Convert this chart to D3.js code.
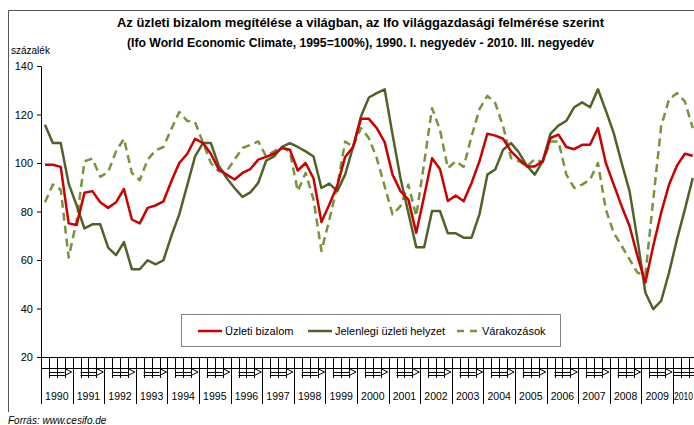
<!DOCTYPE html>
<html>
<head>
<meta charset="utf-8">
<script src="https://cdn.jsdelivr.net/npm/d3@7"></script>
<style>
  html, body { margin: 0; padding: 0; background: #fff; }
  svg { display: block; }
  text { font-family: "Liberation Sans", Arial, sans-serif; }
</style>
</head>
<body>
<svg id="chart" width="694" height="425"></svg>
<script>
// ---------- data ----------
const titleLines = [
  "Az üzleti bizalom megítélése a világban, az Ifo világgazdasági felmérése szerint",
  "(Ifo World Economic Climate, 1995=100%), 1990. I. negyedév - 2010. III. negyedév"
];
const yUnit = "százalék";
const source = "Forrás: www.cesifo.de";
const years = ["1990","1991","1992","1993","1994","1995","1996","1997","1998","1999",
  "2000","2001","2002","2003","2004","2005","2006","2007","2008","2009","2010"];
const yTicks = [20, 40, 60, 80, 100, 120, 140];
const seriesNames = ["Üzleti bizalom", "Jelenlegi üzleti helyzet", "Várakozások"];

const uzletiBizalom = [
  99.3, 99.3, 98.4, 75.1, 74.4, 87.7, 88.4, 83.8, 81.5, 83.8, 89.3, 76.7, 75.1, 81.5,
  82.5, 84.2, 92.5, 100, 103.7, 110, 108.2, 103.8, 97.3, 95.2, 93.2, 95.9, 97.5, 101.4,
  102.5, 103.8, 106.2, 105.5, 96.9, 100, 93.6, 75.7, 82.9, 90.7, 102.5, 106.6, 118.2,
  118.2, 114.4, 108.6, 95.2, 88.4, 84.9, 71.2, 86.3, 102, 97.5, 84.3, 86.6, 84.2,
  91.8, 100.7, 112.1, 111.3, 110, 104.8, 101.6, 98.6, 98.6, 100.7, 110.3, 111.7, 106.6,
  105.7, 107.5, 107.5, 114.4, 100, 91.1, 82.2, 74, 61.6, 50.7, 65.8, 79.5, 91.1, 98.9,
  103.8, 103
];
const jelenlegiHelyzet = [
  115.8, 108.2, 108.2, 91.5, 82.6, 73, 74.7, 74.7, 65.1, 62, 67.4, 56.2, 56.2, 59.9,
  58.2, 59.9, 69.9, 78.8, 90.7, 102.7, 108.2, 108.2, 98.9, 93.8, 89.7, 86, 87.9, 91.8,
  101, 102.7, 106.6, 108.2, 106.6, 104.8, 102.7, 89.7, 91.5, 88.4, 95.2, 106.6, 119.2,
  127, 128.8, 130.4, 111.7, 93.8, 79.5, 65.3, 65.3, 80.2, 80.2, 71, 71, 69.2,
  69.2, 78.8, 95.2, 97.3, 105.5, 108.2, 104.3, 98.9, 95.2, 100.7, 112.1, 115.4, 117.4,
  123, 125, 123, 130.4, 121.6, 112.3, 100, 88.4, 68.5, 46.6, 39.7, 43.1, 54.8, 68.5,
  80.8, 93.8
];
const varakozasok = [
  83.8, 91.1, 89, 61, 76, 100.7, 101.8, 94.3, 96.3, 104.8, 110, 95.9, 92.9, 101.4,
  105.2, 106.6, 114, 121, 117.4, 116.8, 108.5, 100, 96.6, 96.6, 101.4, 106.2, 107.5, 108.9,
  102.7, 104.8, 106.6, 104.8, 88.4, 95.9, 84.9, 63.7, 76.6, 90.4, 108.9, 106.6, 114.4,
  110.3, 102, 90.4, 78.8, 82.2, 91.1, 78.1, 100, 122.6, 113.7, 97.9, 100.7, 98.4,
  111, 122.2, 127.7, 124.7, 115.1, 102, 100.7, 98.6, 101.6, 100.3, 108.9, 108.9, 95.2,
  89.7, 91.1, 93.2, 100, 80.8, 71.2, 65.8, 60.3, 54.8, 53.7, 84.9, 115.1, 126.3, 128.8,
  125.4, 114.4
];

// ---------- layout ----------
const svg = d3.select("#chart");
const W = 694, H = 425;
const left = 41, qW = 7.9;
const nQ = uzletiBizalom.length;
const x = d3.scaleLinear().domain([0, nQ]).range([left, left + nQ * qW]);
const y = d3.scaleLinear().domain([20, 140]).range([357, 66]);
const axisY = y(20);

const colors = ["#cc0000", "#4f6228", "#77933c"];
const dashes = [null, null, "8,5"];

// outer frame (partly cropped in original)
svg.append("path")
  .attr("d", `M8.5,412 L8.5,10.5 L${W},10.5`)
  .attr("fill", "none").attr("stroke", "#555").attr("stroke-width", 1);

// title
svg.selectAll("text.title").data(titleLines).enter().append("text")
  .attr("class", "title")
  .attr("x", (d, i) => i === 0 ? 117 : 127)
  .attr("y", (d, i) => 27 + i * 20)
  .attr("textLength", (d, i) => i === 0 ? 487 : 467)
  .attr("lengthAdjust", "spacingAndGlyphs")
  .attr("font-size", 13.5).attr("font-weight", "bold").attr("fill", "#000")
  .text(d => d);

svg.append("text").attr("x", 11).attr("y", 54).attr("font-size", 10).text(yUnit);

// y axis
const yAxis = d3.axisLeft(y).tickValues(yTicks).tickSize(4).tickSizeOuter(0).tickPadding(4);
const gy = svg.append("g").attr("transform", `translate(${left},0)`).call(yAxis);
gy.select(".domain").attr("stroke", "#000");
gy.selectAll(".tick line").attr("stroke", "#000");
gy.selectAll(".tick text").attr("font-size", 11).attr("fill", "#000")
  .attr("font-family", "Liberation Sans, Arial, sans-serif");

// x axis (multi-level category axis look)
const gx = svg.append("g").attr("stroke", "#000").attr("stroke-width", 1);
gx.append("line").attr("x1", left).attr("x2", W).attr("y1", axisY + 0.5).attr("y2", axisY + 0.5);
gx.append("line").attr("x1", left).attr("x2", W).attr("y1", 368.5).attr("y2", 368.5);
d3.range(0, nQ + 1).forEach(q => {
  const xx = Math.round(x(q)) + 0.5;
  const isYear = q % 4 === 0;
  gx.append("line").attr("x1", xx).attr("x2", xx)
    .attr("y1", axisY).attr("y2", isYear ? 404 : 378);
});
years.forEach((yr, k) => {
  const q0 = k * 4;
  const nQy = Math.min(4, nQ - q0);
  if (nQy === 4) {
    const xs = x(q0 + 1), xe = x(q0 + 3);
    gx.append("line").attr("x1", xs).attr("x2", xe).attr("y1", 372.5).attr("y2", 372.5);
    gx.append("line").attr("x1", xs).attr("x2", xe).attr("y1", 375.5).attr("y2", 375.5);
    gx.append("path").attr("fill", "none")
      .attr("d", `M${xe},368.5 L${xe + 7},372 L${xe},375.5`);
  } else {
    gx.append("line").attr("x1", x(q0)).attr("x2", W).attr("y1", 372.5).attr("y2", 372.5);
    gx.append("line").attr("x1", x(q0)).attr("x2", W).attr("y1", 375.5).attr("y2", 375.5);
  }
  const t = svg.append("text")
    .attr("y", 400)
    .attr("font-size", 10.5).attr("fill", "#000")
    .text(yr);
  if (nQy === 4) {
    t.attr("x", (x(q0) + x(q0 + nQy)) / 2).attr("text-anchor", "middle");
  } else {
    t.attr("x", x(q0) + 1).attr("text-anchor", "start").attr("font-size", 10)
      .attr("textLength", 19).attr("lengthAdjust", "spacingAndGlyphs");
  }
});

// lines
const line = d3.line().x((d, i) => x(i + 0.5)).y(d => y(d));
const allSeries = [uzletiBizalom, jelenlegiHelyzet, varakozasok];
[2, 1, 0].forEach(s => {
  svg.append("path").datum(allSeries[s])
    .attr("d", line)
    .attr("fill", "none")
    .attr("stroke", colors[s])
    .attr("stroke-width", 2.5)
    .attr("stroke-linejoin", "round")
    .attr("stroke-dasharray", dashes[s]);
});

// legend
const lg = svg.append("g");
lg.append("rect").attr("x", 181.5).attr("y", 314.5).attr("width", 379).attr("height", 32)
  .attr("fill", "#fff").attr("stroke", "#808080").attr("stroke-width", 1);
const legX = [198, 308, 457];
seriesNames.forEach((name, i) => {
  lg.append("line").attr("x1", legX[i]).attr("x2", legX[i] + (i === 2 ? 20 : 24))
    .attr("y1", 331).attr("y2", 331)
    .attr("stroke", colors[i]).attr("stroke-width", 2.5)
    .attr("stroke-dasharray", i === 2 ? "7,6" : null);
  lg.append("text").attr("x", legX[i] + (i === 2 ? 25 : 27)).attr("y", 335)
    .attr("font-size", 11).attr("fill", "#000").text(name);
});

// source
svg.append("text").attr("x", 8).attr("y", 424).attr("font-size", 10)
  .attr("font-style", "italic").text(source);
</script>
</body>
</html>
